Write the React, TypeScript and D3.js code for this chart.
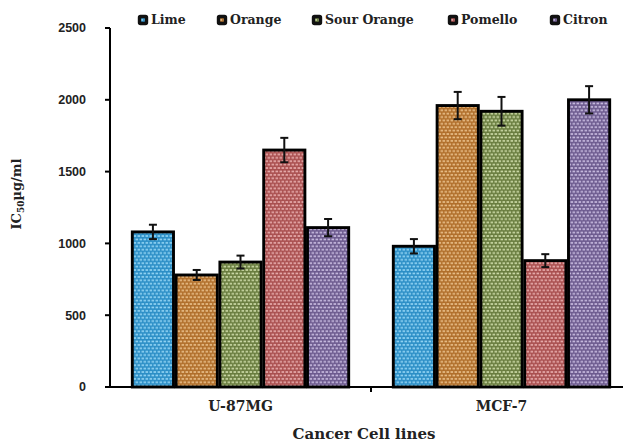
import React from "react";
import * as d3 from "d3";

const categories = ["U-87MG", "MCF-7"];
const seriesNames = ["Lime", "Orange", "Sour Orange", "Pomello", "Citron"];
const values: number[][] = [
  [1080, 980],
  [780, 1960],
  [870, 1920],
  [1650, 880],
  [1110, 2000],
];
const errors: number[][] = [
  [50, 50],
  [35, 95],
  [45, 100],
  [85, 45],
  [60, 95],
];
const yTicks = [0, 500, 1000, 1500, 2000, 2500];
const baseColors = ["#2b8ec6", "#b06e2a", "#687c3e", "#a94f4f", "#6c5a8e"];
const lightColors = ["#90d2f2", "#e8bd88", "#cbd9a6", "#e6aaaa", "#c6b9de"];
const legendX = [138, 217, 312, 448, 550];

const W = 623;
const H = 443;

export default function App() {
  const x = d3
    .scaleBand<string>()
    .domain(categories)
    .range([110, 632])
    .paddingInner(0.161)
    .paddingOuter(0.0805);
  const xs = d3
    .scaleBand<string>()
    .domain(seriesNames)
    .range([0, x.bandwidth()])
    .padding(0);
  const y = d3.scaleLinear().domain([0, 2500]).range([387, 28]);
  const serif = "'DejaVu Serif', serif";
  const sans = "'Liberation Sans', Arial, sans-serif";
  const midTick = (x(categories[0])! + x.bandwidth() + x(categories[1])!) / 2;

  return (
    <svg
      width={W}
      height={H}
      style={{ position: "absolute", left: 0, top: 0, background: "#fff" }}
    >
      <defs>
        {seriesNames.map((s, i) => (
          <pattern
            key={s}
            id={`pat${i}`}
            width={4}
            height={6.8}
            patternUnits="userSpaceOnUse"
          >
            <rect width={4} height={6.8} fill={baseColors[i]} />
            <rect x={0.5} y={0.6} width={2.6} height={1.7} fill={lightColors[i]} />
            <rect x={-1.5} y={4} width={2.6} height={1.7} fill={lightColors[i]} />
            <rect x={2.5} y={4} width={2.6} height={1.7} fill={lightColors[i]} />
          </pattern>
        ))}
      </defs>

      {/* Bars */}
      {categories.map((c, ci) => (
        <g key={c} transform={`translate(${x(c)},0)`}>
          {seriesNames.map((s, si) => {
            const v = values[si][ci];
            return (
              <rect
                key={s}
                x={xs(s)! + 1.3}
                y={y(v)}
                width={xs.bandwidth() - 2.6}
                height={y(0) - y(v)}
                fill={`url(#pat${si})`}
                stroke="#000"
                strokeWidth={2.9}
              />
            );
          })}
          {seriesNames.map((s, si) => {
            const v = values[si][ci];
            const e = errors[si][ci];
            const cx = xs(s)! + xs.bandwidth() / 2;
            return (
              <g key={s} stroke="#111" strokeWidth={2}>
                <line x1={cx} x2={cx} y1={y(v + e)} y2={y(v - e)} />
                <line x1={cx - 4} x2={cx + 4} y1={y(v + e)} y2={y(v + e)} />
                <line x1={cx - 4} x2={cx + 4} y1={y(v - e)} y2={y(v - e)} />
              </g>
            );
          })}
        </g>
      ))}

      {/* Y axis */}
      <line x1={110} x2={110} y1={y(2500)} y2={y(0) + 1} stroke="#000" strokeWidth={2} />
      {yTicks.map((t) => (
        <g key={t}>
          <line x1={105} x2={110} y1={y(t)} y2={y(t)} stroke="#000" strokeWidth={2} />
          <text
            x={86}
            y={y(t)}
            dy="0.35em"
            textAnchor="end"
            fontFamily={sans}
            fontWeight="bold"
            fontSize={12.5}
            fill="#222"
          >
            {t}
          </text>
        </g>
      ))}

      {/* X axis */}
      <line x1={109} x2={W} y1={y(0)} y2={y(0)} stroke="#000" strokeWidth={2} />
      <line x1={midTick} x2={midTick} y1={y(0)} y2={y(0) + 5} stroke="#000" strokeWidth={2} />
      {categories.map((c) => (
        <text
          key={c}
          x={x(c)! + x.bandwidth() / 2}
          y={411}
          textAnchor="middle"
          fontFamily={serif}
          fontWeight="bold"
          fontSize={14}
          fill="#222"
        >
          {c}
        </text>
      ))}
      <text
        x={364}
        y={439}
        textAnchor="middle"
        fontFamily={serif}
        fontWeight="bold"
        fontSize={15}
        fill="#222"
      >
        Cancer Cell lines
      </text>

      {/* Y title */}
      <text
        transform="translate(21,194) rotate(-90)"
        textAnchor="middle"
        fontFamily={serif}
        fontWeight="bold"
        fontSize={13}
        fill="#222"
      >
        IC
        <tspan fontSize={9} dy={3}>
          50
        </tspan>
        <tspan dy={-3}>µg/ml</tspan>
      </text>

      {/* Legend */}
      {seriesNames.map((s, i) => (
        <g key={s} transform={`translate(${legendX[i]},15)`}>
          <rect
            x={1.5}
            y={1.5}
            width={7}
            height={7}
            rx={1}
            fill={`url(#pat${i})`}
            stroke="#111"
            strokeWidth={3.4}
          />
          <text
            x={13}
            y={5}
            dy="0.35em"
            fontFamily={serif}
            fontWeight="bold"
            fontSize={12.5}
            fill="#222"
          >
            {s}
          </text>
        </g>
      ))}
    </svg>
  );
}
